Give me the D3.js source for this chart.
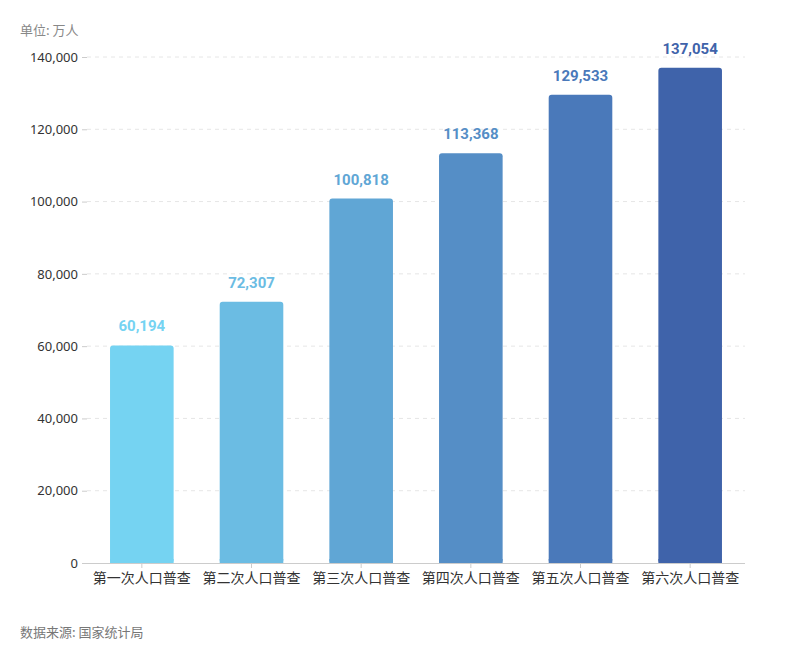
<!DOCTYPE html>
<html><head><meta charset="utf-8">
<script src="https://cdn.jsdelivr.net/npm/d3@7"></script>
<style>body{margin:0;background:#fff;font-family:"Noto Sans CJK SC","Noto Sans",sans-serif;}</style>
</head><body><svg id="c" width="800" height="658"></svg>
<script>
const categories = ["第一次人口普查","第二次人口普查","第三次人口普查","第四次人口普查","第五次人口普查","第六次人口普查"];
const values = [60194, 72307, 100818, 113368, 129533, 137054];
const colors = ["#75D3F2","#6BBCE3","#60A6D5","#558EC6","#4A79BA","#3F63AA"];
const yTicks = [0,20000,40000,60000,80000,100000,120000,140000];

const svg = d3.select("#c");
const m = {left:87, right:745, top:57, bottom:563};
const x = d3.scaleBand().domain(categories).range([m.left, m.right]).paddingInner(0.42).paddingOuter(0.21);
const y = d3.scaleLinear().domain([0,140000]).range([m.bottom, m.top]);

// grid
svg.append("g").selectAll("line").data(yTicks.filter(d=>d>0)).join("line")
  .attr("x1", m.left).attr("x2", m.right).attr("y1", d=>y(d)).attr("y2", d=>y(d))
  .attr("stroke","#e6e6e6").attr("stroke-dasharray","4,4");

// y axis
const ya = svg.append("g").attr("transform",`translate(${m.left},0)`)
  .call(d3.axisLeft(y).tickValues(yTicks).tickFormat(d3.format(",")).tickSize(5).tickPadding(4));
ya.select(".domain").remove();
ya.selectAll(".tick line").attr("stroke","#ccc");
ya.selectAll("text").attr("fill","#333").style("font-size","13px").style("font-family","'Noto Sans','Noto Sans CJK SC',sans-serif");

// bars
svg.append("g").selectAll("rect").data(values).join("rect")
  .attr("x",(d,i)=>x(categories[i])).attr("width",x.bandwidth())
  .attr("y",d=>y(d)).attr("height",d=>y(0)-y(d))
  .attr("rx",3).attr("fill",(d,i)=>colors[i]);
// square bottom corners
svg.append("g").selectAll("rect").data(values).join("rect")
  .attr("x",(d,i)=>x(categories[i])).attr("width",x.bandwidth())
  .attr("y",y(0)-4).attr("height",4).attr("fill",(d,i)=>colors[i]);

// x axis
const xa = svg.append("g").attr("transform",`translate(0,${m.bottom})`)
  .call(d3.axisBottom(x).tickSize(5).tickPadding(5).tickSizeOuter(0));
xa.select(".domain").attr("stroke","#ccc").attr("d",`M${m.left-5},0.5H${m.right}`);
xa.selectAll(".tick line").attr("stroke","#ccc");
xa.selectAll("text").attr("fill","#333").style("font-size","14px").style("font-family","'Noto Sans CJK SC',sans-serif");

// value labels
svg.append("g").selectAll("text").data(values).join("text")
  .attr("x",(d,i)=>x(categories[i])+x.bandwidth()/2).attr("y",d=>y(d)-14)
  .attr("text-anchor","middle").attr("fill",(d,i)=>colors[i])
  .style("font-size","15px").style("font-weight","bold").style("font-family","Roboto,'Noto Sans',sans-serif")
  .text(d=>d3.format(",")(d));

svg.append("text").attr("x",20).attr("y",35).attr("fill","#888").style("font-size","13px").text("单位: 万人");
svg.append("text").attr("x",20).attr("y",637).attr("fill","#777").style("font-size","13px").text("数据来源: 国家统计局");
</script></body></html>
